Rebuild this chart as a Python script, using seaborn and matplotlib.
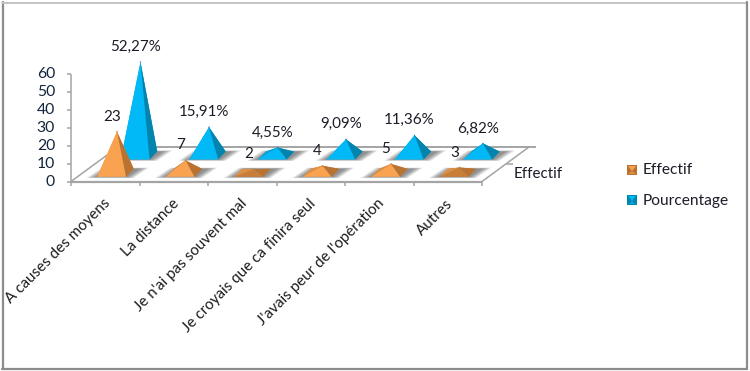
import numpy as np
import pandas as pd
import matplotlib
matplotlib.use("Agg")
import matplotlib.pyplot as plt
from matplotlib.patches import Polygon, Rectangle
import seaborn as sns

# donnees
categories = ["A causes des moyens", "La distance", "Je n'ai pas souvent mal",
              "Je croyais que ca finira seul", "J'avais peur de l'opération", "Autres"]
effectif = [23, 7, 2, 4, 5, 3]
pourcentage = [52.27, 15.91, 4.55, 9.09, 11.36, 6.82]
yticks = [0, 10, 20, 30, 40, 50, 60]

sns.set_theme(style="white")
plt.rcParams['font.family'] = ['Lato', 'DejaVu Sans']
plt.rcParams['text.color'] = '#1c1c28'

fig = plt.figure(figsize=(7.5, 3.71), dpi=100)
ax = fig.add_axes([0, 0, 1, 1])
ax.set_xlim(0, 750)
ax.set_ylim(371, 0)
ax.axis('off')

GRIS = '#a4a4a4'
FS = 10.9


# projection oblique (categorie, profondeur, valeur) -> pixels
def proj(cat, prof, val=0):
    return (71 + cat * 68.5 + prof * 23.5, 181.5 - prof * 17.25 - val * 1.79)


def ligne(p1, p2, color=GRIS, lw=1.3, z=1):
    ax.plot([p1[0], p2[0]], [p1[1], p2[1]], color=color, lw=lw, zorder=z,
            solid_capstyle='butt')


def melange(c1, c2, t):
    return tuple(np.array(matplotlib.colors.to_rgb(c1)) * (1 - t) +
                 np.array(matplotlib.colors.to_rgb(c2)) * t)


def pyramide(cat, prof, val, clair, sombre, z):
    hw, hd, recul = 0.21, 0.23, 0.044
    a = proj(cat - hw, prof - hd)
    b = proj(cat + hw, prof - hd)
    c = proj(cat + hw - recul, prof + hd)
    d = proj(cat - hw - recul, prof + hd)
    s = proj(cat, prof, val)
    # ombre au sol
    for k in range(6):
        ex = 0.022 * (k + 1)
        ey = 0.012 * (k + 1)
        pts = [proj(cat - hw - ex, prof - hd - ey), proj(cat + hw + ex, prof - hd - ey),
               proj(cat + hw + ex + .02, prof + hd + ey), proj(cat - hw - ex + .02, prof + hd + ey)]
        ax.add_patch(Polygon(pts, fc='#383838', ec='none', alpha=0.12, zorder=z - 1))
    # les pyramides basses sont plus foncees, comme dans l'original
    face = melange(clair, sombre, 0.75) if val < 3.5 else clair
    ax.add_patch(Polygon([d, c, s], fc=melange(sombre, clair, .25), ec='none', zorder=z))
    ax.add_patch(Polygon([a, d, s], fc=melange(clair, sombre, .4), ec='none', zorder=z))
    ax.add_patch(Polygon([b, c, s], fc=sombre, ec='none', zorder=z + 0.1))
    ax.add_patch(Polygon([a, b, s], fc=face, ec='none', zorder=z + 0.2))
    return s


# sol et axes
ligne(proj(0, 0), proj(6, 0), lw=1.6)
ligne(proj(0, 0), proj(0, 2), lw=1.1)
ligne(proj(6, 0), proj(6, 2), lw=1.1)
ligne(proj(0, 2), (proj(6, 2)[0] + 7, proj(6, 2)[1]), lw=1.4)
ligne(proj(6, 1), (proj(6, 1)[0] + 7, proj(6, 1)[1]), lw=1.1)
ligne(proj(0, 0), proj(0, 0, 60), lw=1.1)
for t in yticks:
    x, y = proj(0, 0, t)
    ligne((x - 4, y), (x, y), lw=1.1)
    ax.text(x - 16, y, str(t), ha='right', va='center', fontsize=FS + .4, color='#14243c')
for i in range(7):
    x, y = proj(i, 0)
    ligne((x, y), (x, y + 4), lw=1.1)
for i, cat in enumerate(categories):
    x, y = proj(i + .5, 0)
    ax.text(x - 2, y + 15, cat, rotation=45, ha='right', va='top', rotation_mode='anchor',
            fontsize=FS, color='#1c1c1c')
x, y = proj(6, 1)
ax.text(x + 8, y + 9.5, "Effectif", ha='left', va='center', fontsize=FS)

# pyramides, du fond vers l'avant
series = [("Pourcentage", pourcentage, 1.5, '#00b9f6', '#0284ae', 20),
          ("Effectif", effectif, 0.5, '#f9a24f', '#b9722f', 40)]
lignes = []
for nom, valeurs, prof, clair, sombre, z in series:
    for i, v in enumerate(valeurs):
        sx, sy = pyramide(i + .5, prof, v, clair, sombre, z + i)
        lignes.append({'serie': nom, 'x': sx, 'y': sy})
        txt = f"{v:.2f}%".replace('.', ',') if nom == "Pourcentage" else str(v)
        ax.text(sx - 5, sy - 15, txt, ha='center', va='center', fontsize=FS, zorder=80)

# petit point au sommet de chaque pyramide
df = pd.DataFrame(lignes)
sns.scatterplot(data=df, x='x', y='y', hue='serie', legend=False, s=1, linewidth=0,
                palette={"Pourcentage": '#0284ae', "Effectif": '#b9722f'}, ax=ax, zorder=70)
ax.set_xlim(0, 750)
ax.set_ylim(371, 0)

# legende
for (nom, _, _, clair, sombre, _), yc in zip(series[::-1], [170, 200]):
    xc = 632
    r = 5
    ax.add_patch(Rectangle((xc - r, yc - r), 2 * r, 2 * r, fc=sombre, ec='none', zorder=5))
    ax.add_patch(Polygon([(xc - r + 1, yc - r + 1), (xc + r - 1, yc - r + 1), (xc, yc + 1)], fc=clair, ec='none', zorder=6))
    ax.add_patch(Polygon([(xc - r + 1, yc + r - 1), (xc + r - 1, yc + r - 1), (xc, yc + 1)], fc=melange(sombre, clair, .6), ec='none', zorder=6))
    ax.text(643, yc + .5, nom, ha='left', va='center', fontsize=FS + .3)

# cadre
ax.plot([2.5, 2.5], [2, 369], color='#8c8c8c', lw=1.6, zorder=90)
ax.plot([2, 747], [2.5, 2.5], color='#c4c4c4', lw=1.4, zorder=90)
ax.plot([747, 747], [2, 369], color='#8c8c8c', lw=1.6, zorder=90)
ax.plot([2, 747], [368.5, 368.5], color='#8c8c8c', lw=1.6, zorder=90)

fig.savefig('out.png', dpi=100, facecolor='white')
